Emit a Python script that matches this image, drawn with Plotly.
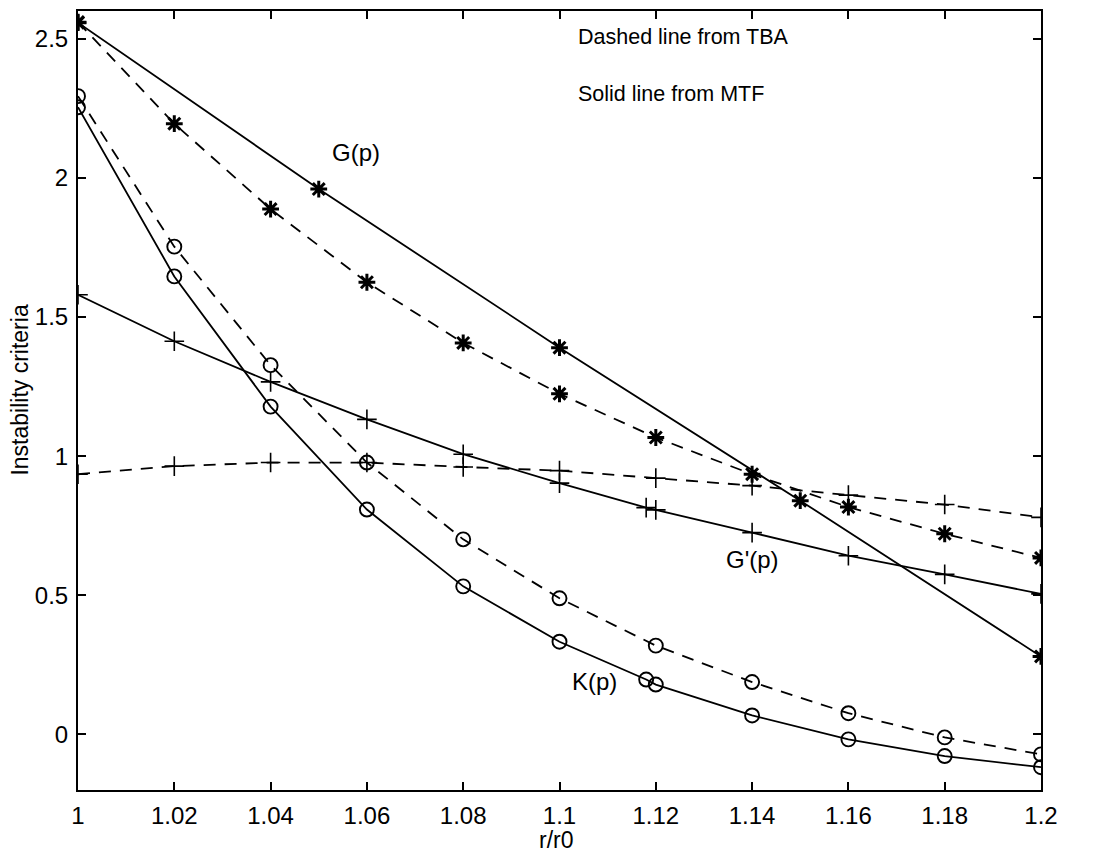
import plotly.graph_objects as go

# ---- data ----
x_tba = [1.00, 1.02, 1.04, 1.06, 1.08, 1.10, 1.12, 1.14, 1.16, 1.18, 1.20]

G_tba = [2.56, 2.195, 1.888, 1.625, 1.407, 1.224, 1.067, 0.935, 0.817, 0.721, 0.634]
Gp_tba = [0.935, 0.964, 0.977, 0.977, 0.961, 0.948, 0.921, 0.894, 0.86, 0.826, 0.78]
K_tba = [2.294, 1.753, 1.327, 0.977, 0.701, 0.489, 0.319, 0.188, 0.076, -0.011, -0.072]

x_G_mtf = [1.00, 1.05, 1.10, 1.15, 1.20]
G_mtf = [2.558, 1.96, 1.39, 0.84, 0.28]

x_mtf = [1.00, 1.02, 1.04, 1.06, 1.08, 1.10, 1.118, 1.12, 1.14, 1.16, 1.18, 1.20]
Gp_mtf = [1.58, 1.413, 1.267, 1.132, 1.007, 0.903, 0.815, 0.807, 0.725, 0.642, 0.575, 0.505]
K_mtf = [2.254, 1.646, 1.178, 0.808, 0.532, 0.333, 0.197, 0.179, 0.068, -0.018, -0.078, -0.118]

x_ticks = [1.00, 1.02, 1.04, 1.06, 1.08, 1.10, 1.12, 1.14, 1.16, 1.18, 1.20]
x_ticklabels = ["1", "1.02", "1.04", "1.06", "1.08", "1.1", "1.12", "1.14", "1.16", "1.18", "1.2"]
y_ticks = [0, 0.5, 1, 1.5, 2, 2.5]
y_ticklabels = ["0", "0.5", "1", "1.5", "2", "2.5"]

FONT = "Liberation Sans, Arial, sans-serif"
DASH = "12px,9px"

fig = go.Figure()

def add(x, y, symbol, dash, size, mlw):
    fig.add_trace(go.Scatter(
        x=x, y=y, mode="lines+markers",
        line=dict(color="black", width=1.8, dash=dash),
        marker=dict(symbol=symbol, size=size, color="black",
                    line=dict(color="black", width=mlw)),
        showlegend=False, hoverinfo="skip"))

add(x_tba, G_tba, "asterisk-open", DASH, 14, 3)
add(x_G_mtf, G_mtf, "asterisk-open", "solid", 14, 3)
add(x_tba, Gp_tba, "cross-thin-open", DASH, 14, 1.6)
add(x_mtf, Gp_mtf, "cross-thin-open", "solid", 14, 1.6)
add(x_tba, K_tba, "circle-open", DASH, 14, 1.9)
add(x_mtf, K_mtf, "circle-open", "solid", 14, 1.9)

ann_font = dict(family=FONT, size=24, color="black")
fig.add_annotation(x=1.0577, y=2.09, text="G(p)", showarrow=False, font=ann_font)
fig.add_annotation(x=1.1400, y=0.63, text="G'(p)", showarrow=False, font=ann_font)
fig.add_annotation(x=1.1073, y=0.19, text="K(p)", showarrow=False, font=ann_font)
fig.add_annotation(x=1.1035, y=2.505, text="Dashed line from TBA", showarrow=False,
                   xanchor="left", font=dict(family=FONT, size=21.5, color="black"))
fig.add_annotation(x=1.1035, y=2.30, text="Solid line from MTF", showarrow=False,
                   xanchor="left", font=dict(family=FONT, size=21.5, color="black"))
# axis titles placed as in the reference
fig.add_annotation(xref="paper", yref="paper", x=-0.06, y=0.513,
                   text="Instability criteria", textangle=-90, showarrow=False,
                   xanchor="center", yanchor="middle",
                   font=dict(family=FONT, size=23, color="black"))
fig.add_annotation(xref="paper", yref="paper", x=0.497, y=-0.0835,
                   text="r/r0", showarrow=False, xanchor="center", yanchor="bottom",
                   font=dict(family=FONT, size=23, color="black"))

axis_common = dict(showline=True, linecolor="black", linewidth=2, mirror="allticks",
                   ticks="inside", ticklen=8, tickwidth=1.5, tickcolor="black",
                   showgrid=False, zeroline=False, automargin=False,
                   tickfont=dict(family=FONT, size=24, color="black"))

fig.update_xaxes(range=[1.0, 1.2], tickvals=x_ticks, ticktext=x_ticklabels,
                 ticklabelstandoff=3, **axis_common)
fig.update_yaxes(range=[-0.2, 2.6], tickvals=y_ticks, ticktext=y_ticklabels,
                 ticklabelstandoff=3, **axis_common)

fig.update_layout(width=1093, height=856, plot_bgcolor="white", paper_bgcolor="white",
                  margin=dict(l=78, r=52, t=11, b=66))

fig.write_html("out.html")
